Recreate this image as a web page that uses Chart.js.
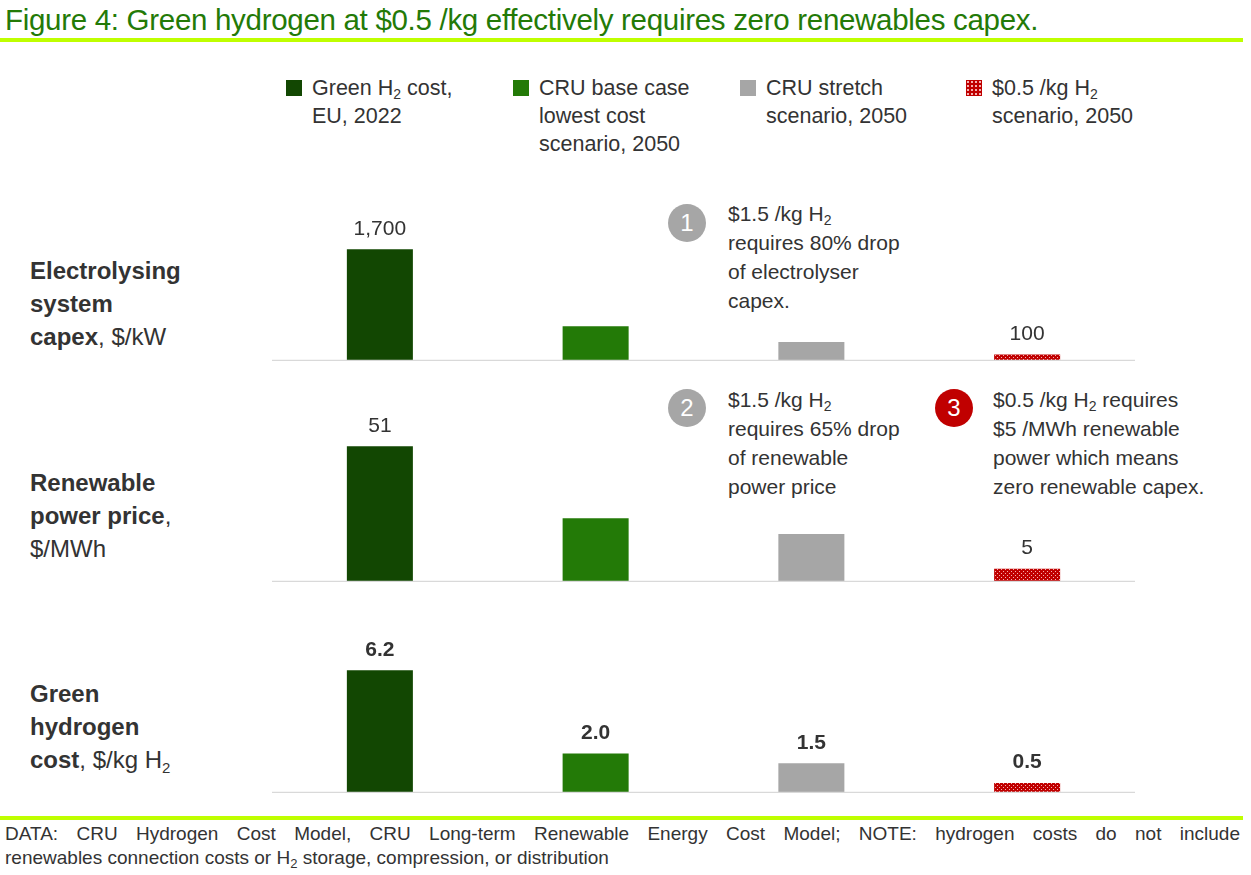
<!DOCTYPE html>
<html>
<head>
<meta charset="utf-8">
<script src="https://cdn.jsdelivr.net/npm/chart.js@4"></script>
<style>
body { margin: 0; width: 1251px; height: 875px; background: #fff; font-family: Arial, "Liberation Sans", sans-serif; position: relative; overflow: hidden; }
sub { line-height: 0; vertical-align: -0.3em; }
.abs { position: absolute; }
#title { left: 5px; top: 3px; font-size: 29.5px; color: #237a07; white-space: nowrap; letter-spacing: -0.3px; }
.rule { left: 0; width: 1243px; height: 4px; background: #bfff00; }
.leg { font-size: 21.5px; color: #333; line-height: 28px; }
.sw { width: 16px; height: 16px; }
.side { left: 30px; font-size: 24px; color: #333; line-height: 33px; }
.note { font-size: 21px; color: #333; line-height: 29px; }
.circ { width: 38px; height: 38px; border-radius: 50%; color: #fff; font-size: 24px; text-align: center; line-height: 38px; }
.foot { left: 5px; width: 1235px; font-size: 19px; color: #333; line-height: 23px; white-space: nowrap; }
canvas { position: absolute; }
</style>
</head>
<body>
<div id="title" class="abs">Figure 4: Green hydrogen at $0.5 /kg effectively requires zero renewables capex.</div>
<div class="abs rule" style="top:38px"></div>
<div class="abs rule" style="top:816px"></div>

<div class="abs sw" style="left:286px;top:80px;background:#124702"></div>
<div class="abs leg" style="left:312px;top:74px">Green H<sub style="font-size:14px">2</sub> cost,<br>EU, 2022</div>
<div class="abs sw" style="left:513px;top:80px;background:#237a07"></div>
<div class="abs leg" style="left:539px;top:74px">CRU base case<br>lowest cost<br>scenario, 2050</div>
<div class="abs sw" style="left:740px;top:80px;background:#a6a6a6"></div>
<div class="abs leg" style="left:766px;top:74px">CRU stretch<br>scenario, 2050</div>
<div class="abs sw" id="patsw" style="left:966px;top:80px;background:#c00000"></div>
<div class="abs leg" style="left:992px;top:74px">$0.5 /kg H<sub style="font-size:14px">2</sub><br>scenario, 2050</div>

<div class="abs side" style="top:254px"><b>Electrolysing<br>system<br>capex</b>, $/kW</div>
<div class="abs side" style="top:466px"><b>Renewable<br>power price</b>,<br>$/MWh</div>
<div class="abs side" style="top:677px"><b>Green<br>hydrogen<br>cost</b>, $/kg H<sub style="font-size:15px">2</sub></div>

<div class="abs circ" style="left:668px;top:204px;background:#a6a6a6">1</div>
<div class="abs note" style="left:728px;top:199px">$1.5 /kg H<sub style="font-size:14px">2</sub><br>requires 80% drop<br>of electrolyser<br>capex.</div>
<div class="abs circ" style="left:668px;top:389px;background:#a6a6a6">2</div>
<div class="abs note" style="left:728px;top:385px">$1.5 /kg H<sub style="font-size:14px">2</sub><br>requires 65% drop<br>of renewable<br>power price</div>
<div class="abs circ" style="left:935px;top:389px;background:#c00000">3</div>
<div class="abs note" style="left:993px;top:385px">$0.5 /kg H<sub style="font-size:14px">2</sub> requires<br>$5 /MWh renewable<br>power which means<br>zero renewable capex.</div>

<div class="abs foot" style="top:822px;text-align:justify;text-align-last:justify">DATA: CRU Hydrogen Cost Model, CRU Long-term Renewable Energy Cost Model; NOTE: hydrogen costs do not include</div>
<div class="abs foot" style="top:846px">renewables connection costs or H<sub style="font-size:13px">2</sub> storage, compression, or distribution</div>

<canvas id="c1" style="left:272px;top:200px" width="863" height="161"></canvas>
<canvas id="c2" style="left:272px;top:400px" width="863" height="182"></canvas>
<canvas id="c3" style="left:272px;top:620px" width="863" height="173"></canvas>

<script>
var categories = ['Green H2 cost, EU, 2022', 'CRU base case lowest cost scenario, 2050', 'CRU stretch scenario, 2050', '$0.5 /kg H2 scenario, 2050'];
var capexValues = [1700, 530, 290, 100];
var capexLabels = ['1,700', '', '', '100'];
var powerValues = [51, 24, 18, 5];
var powerLabels = ['51', '', '', '5'];
var h2Values = [6.2, 2.0, 1.5, 0.5];
var h2Labels = ['6.2', '2.0', '1.5', '0.5'];

function makePattern() {
    const p = document.createElement('canvas');
    p.width = 4; p.height = 4;
    const g = p.getContext('2d');
    g.fillStyle = '#c00000';
    g.fillRect(0, 0, 4, 4);
    g.fillStyle = '#f4b0b0';
    g.fillRect(1, 1, 1, 1);
    g.fillRect(3, 3, 1, 1);
    return g.createPattern(p, 'repeat');
}
const pattern = makePattern();

const labelPlugin = {
    id: 'labels',
    afterDatasetsDraw(chart, args, opts) {
        const ctx = chart.ctx;
        const area = chart.chartArea;
        ctx.save();
        ctx.strokeStyle = '#d9d9d9';
        ctx.lineWidth = 1.5;
        ctx.beginPath();
        ctx.moveTo(area.left, area.bottom - 0.5);
        ctx.lineTo(area.right, area.bottom - 0.5);
        ctx.stroke();
        ctx.fillStyle = '#333';
        ctx.font = (opts.bold ? 'bold ' : '') + '21px Arial, "Liberation Sans"';
        ctx.textAlign = 'center';
        ctx.textBaseline = 'bottom';
        chart.getDatasetMeta(0).data.forEach((bar, i) => {
            if (opts.texts[i]) ctx.fillText(opts.texts[i], bar.x, bar.y - 10);
        });
        ctx.restore();
    }
};

function drawPanel(id, values, texts, max, bold) {
    new Chart(document.getElementById(id), {
        type: 'bar',
        data: {
            labels: categories,
            datasets: [{
                data: values,
                backgroundColor: ['#124702', '#237a07', '#a6a6a6', pattern],
                barPercentage: 0.306,
                categoryPercentage: 1
            }]
        },
        options: {
            responsive: false,
            animation: false,
            layout: { padding: 0 },
            plugins: { legend: { display: false }, tooltip: { enabled: false }, labels: { texts: texts, bold: bold } },
            scales: {
                x: { display: false },
                y: { display: false, min: 0, max: max }
            }
        },
        plugins: [labelPlugin]
    });
}

drawPanel('c1', capexValues, capexLabels, 2450, false);
drawPanel('c2', powerValues, powerLabels, 68.4, false);
drawPanel('c3', h2Values, h2Labels, 8.74, true);
document.getElementById('patsw').style.background = '#c00000 radial-gradient(#f4b0b0 30%, transparent 31%) 0 0/4px 4px';
</script>
</body>
</html>
